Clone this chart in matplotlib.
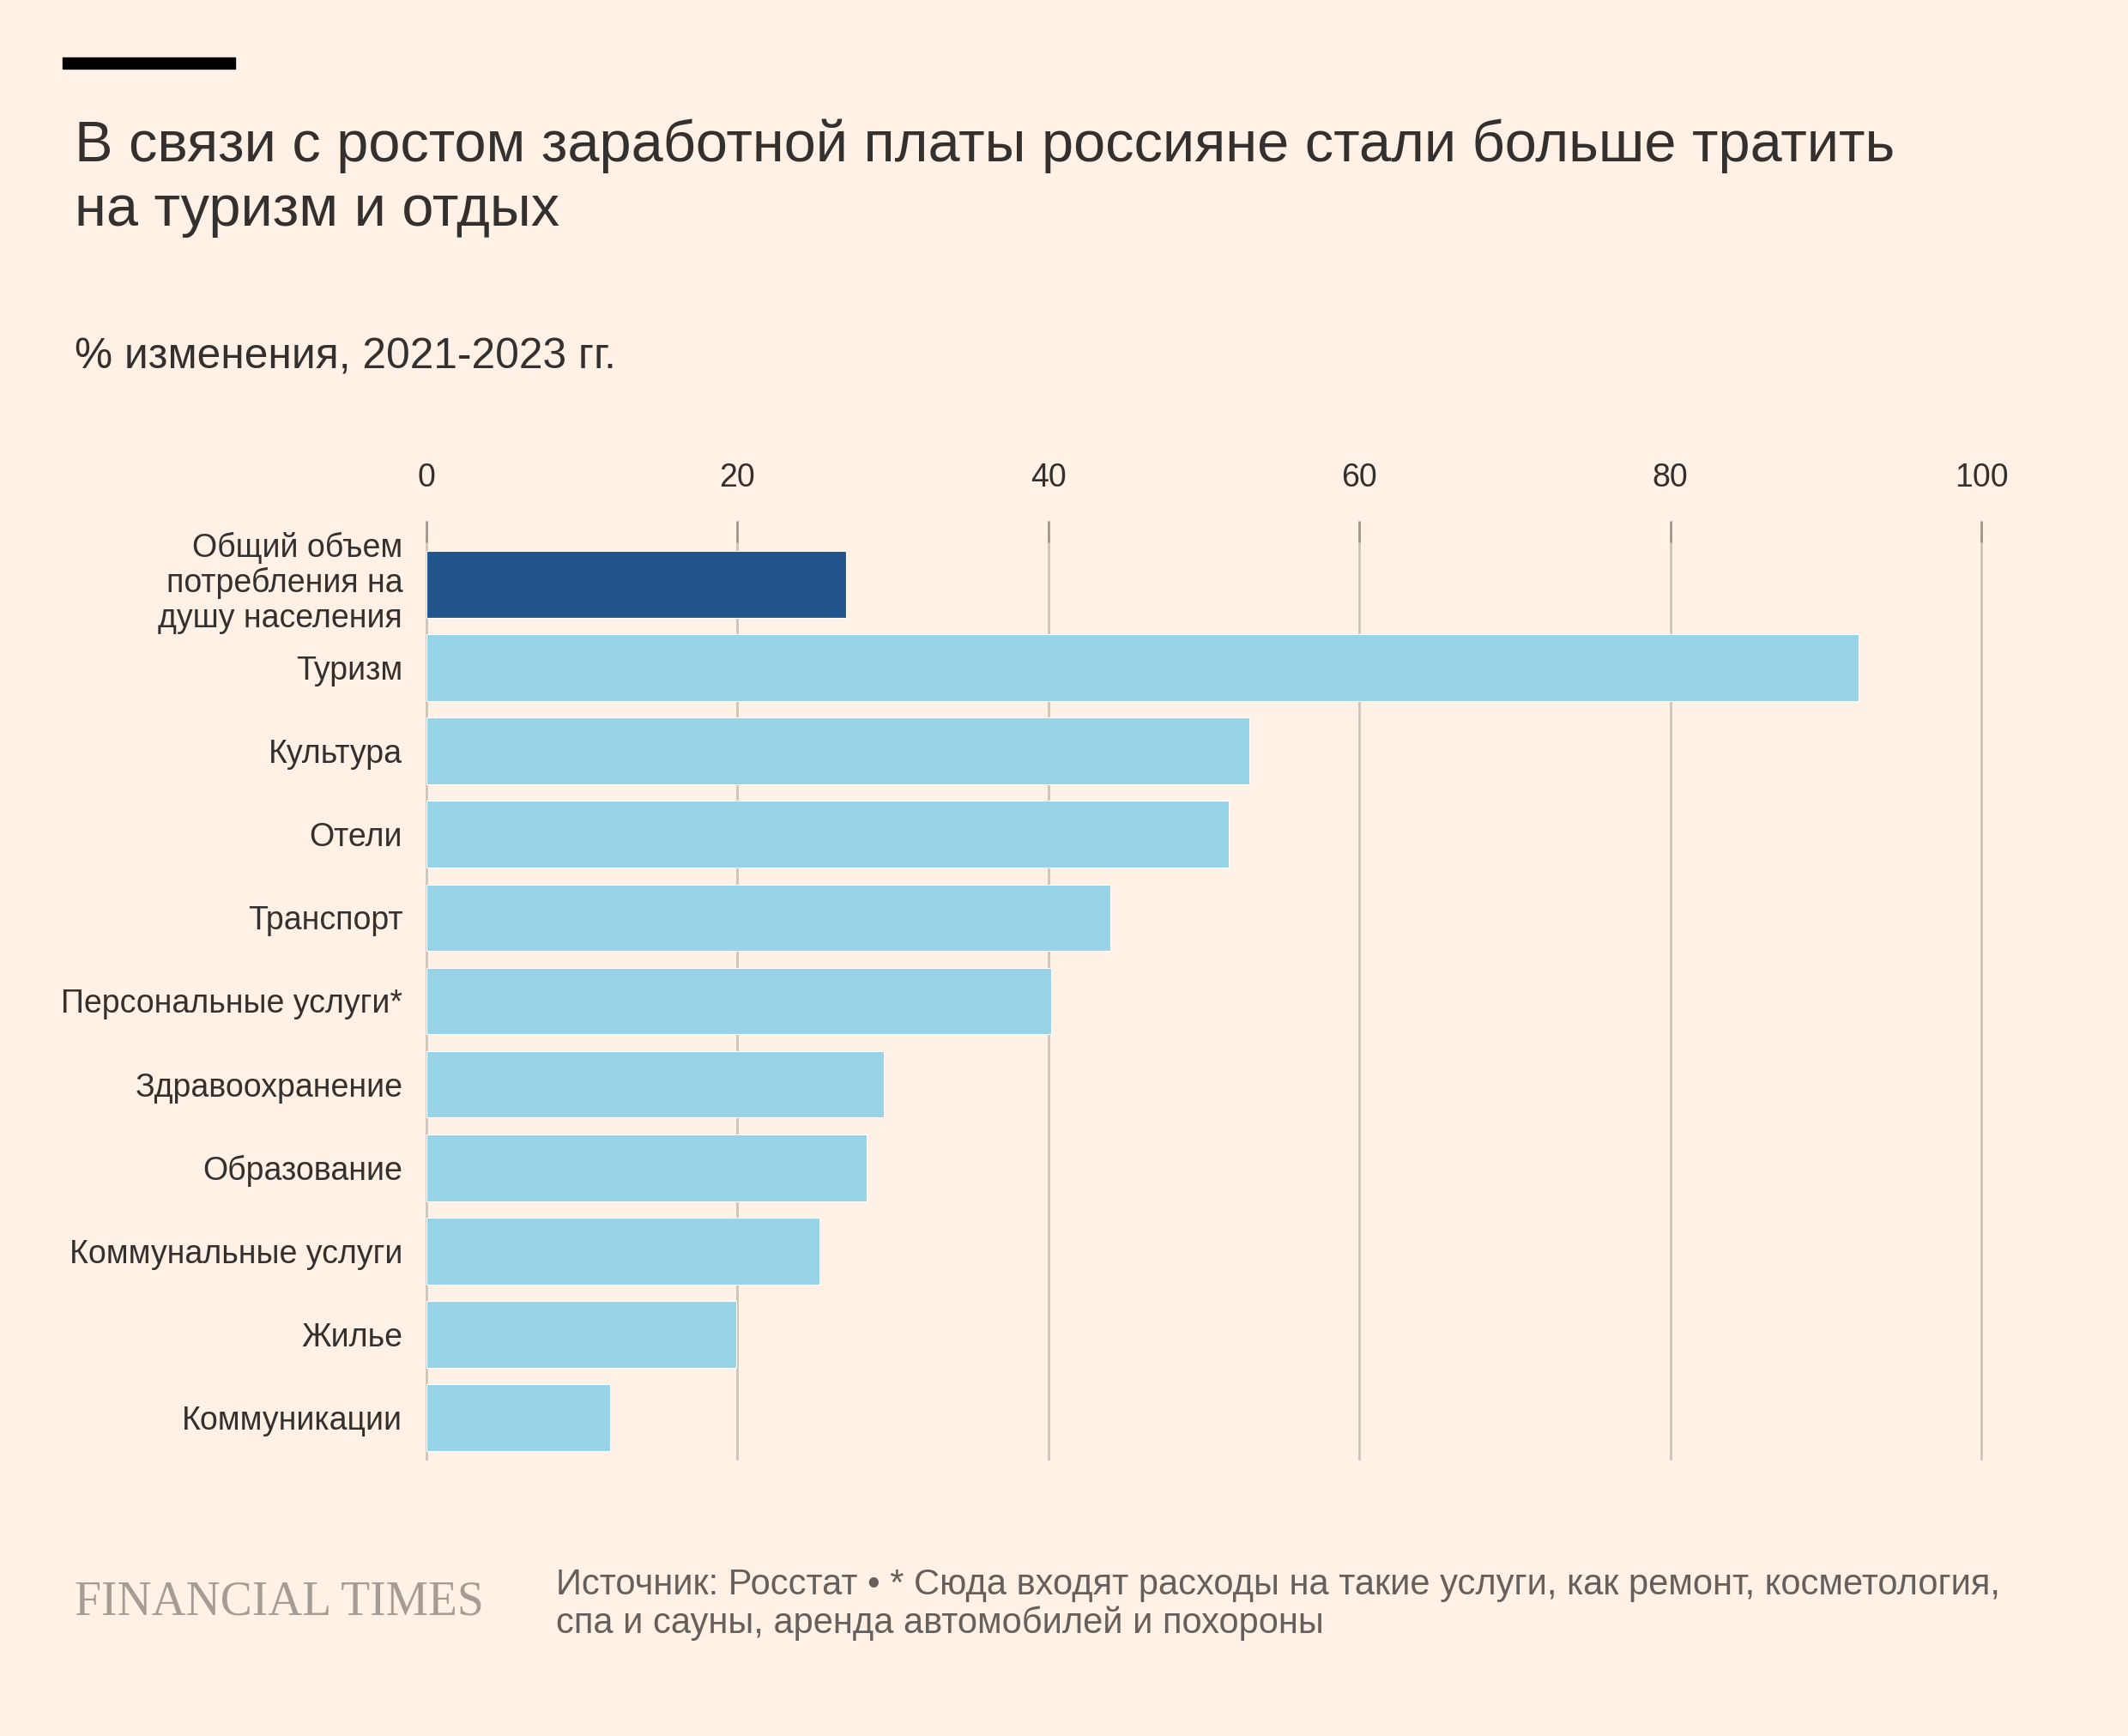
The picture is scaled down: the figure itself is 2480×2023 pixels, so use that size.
import matplotlib.pyplot as plt
import matplotlib.transforms as mtransforms
from matplotlib.patches import Rectangle

plt.rcParams['font.family'] = ['Liberation Sans', 'DejaVu Sans']

# data
categories = ["Общий объем\nпотребления на\nдушу населения", "Туризм", "Культура", "Отели",
              "Транспорт", "Персональные услуги*", "Здравоохранение", "Образование",
              "Коммунальные услуги", "Жилье", "Коммуникации"]
values = [27.0, 92.1, 52.9, 51.6, 44.0, 40.2, 29.4, 28.3, 25.3, 19.9, 11.8]
xticks = [0, 20, 40, 60, 80, 100]

bg = "#fff1e5"
W, H = 2480, 2023
fig = plt.figure(figsize=(W / 100, H / 100), dpi=100, facecolor=bg)

# axes placed in pixel terms
left, right, top, bottom = 497, 2309, 632, 1700
ax = fig.add_axes([left / W, 1 - bottom / H, (right - left) / W, (bottom - top) / H])
ax.set_facecolor(bg)

colors = ["#20548a"] + ["#96d3e6"] * (len(values) - 1)
ypos = list(range(len(values)))
ax.barh(ypos, values, height=0.8, color=colors, edgecolor="#ffffff", linewidth=0.8, zorder=3)

pitch = 97.1
ax.set_ylim(len(values) - 1 + (bottom - 1652) / pitch, -(681 - top) / pitch)
ax.set_xlim(0, 100)

ax.xaxis.tick_top()
ax.set_xticks(xticks)
ax.set_xticklabels([str(t) for t in xticks])
ax.tick_params(axis='x', length=18, width=2, color="#9e958d", pad=23, labelsize=27,
               labelcolor="#33302e")
ax.grid(axis='x', color="#cec3b8", linewidth=2, zorder=0, clip_on=False)
ax.set_yticks(ypos)
ax.set_yticklabels(categories, fontsize=27, color="#33302e", linespacing=1.16)
ax.tick_params(axis='y', length=0, pad=20)
for s in ax.spines.values():
    s.set_visible(False)

# three-line label sits a little high in the original
lab = ax.get_yticklabels()[0]
lab.set_transform(lab.get_transform() + mtransforms.ScaledTranslation(0, 0.08, fig.dpi_scale_trans))

# header
fig.patches.append(Rectangle((73 / W, 1 - 80 / H), 201 / W, 13 / H,
                             transform=fig.transFigure, color="#000000"))
fig.text(87 / W, 1 - 263 / H, "В связи с ростом заработной платы россияне стали больше тратить\nна туризм и отдых",
         fontsize=48, color="#33302e", va='baseline', ha='left', linespacing=1.27)
fig.text(87 / W, 1 - 430 / H, "% изменения, 2021-2023 гг.", fontsize=35.7, color="#33302e",
         va='baseline', ha='left')

# footer
fig.text(87 / W, 1 - 1882 / H, "FINANCIAL TIMES", family="Liberation Serif", fontsize=40,
         color="#a59d95", va='baseline', ha='left')
fig.text(648 / W, 1 - 1903 / H,
         "Источник: Росстат • * Сюда входят расходы на такие услуги, как ремонт, косметология,\nспа и сауны, аренда автомобилей и похороны",
         fontsize=30, color="#66605c", va='baseline', ha='left', linespacing=1.15)

fig.savefig("out.png", dpi=100, facecolor=bg)
